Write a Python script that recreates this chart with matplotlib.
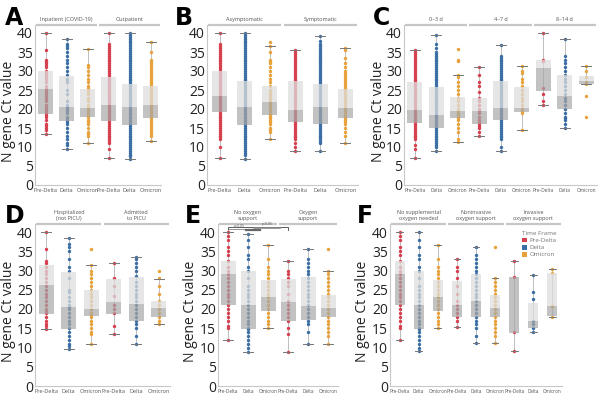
import matplotlib.pyplot as plt
from matplotlib.patches import Rectangle, Patch
import numpy as np

plt.rcParams['font.family'] = ['Open Sans', 'DejaVu Sans']

variants = ['Pre-Delta', 'Delta', 'Omicron']
colors = {'Pre-Delta': '#d6404e', 'Delta': '#3b6ea5', 'Omicron': '#e9a23b'}

# box stats per column: [whisker low, Q1, median, Q3, whisker high]
# --- A: inpatient / outpatient
a_headers = ['Inpatient (COVID-19)', 'Outpatient']
a_boxes = [[13.5, 18.8, 25.2, 30.0, 40], [9.5, 16.8, 20.5, 28.7, 38.5], [11, 18, 20.2, 25.3, 35.8],
           [7, 16.8, 21, 28.5, 40], [6.8, 15.8, 20.5, 26.7, 40], [11.7, 17.7, 21, 26, 37.5]]
a_points = [
    [13.5, 14.5, 15, 15.5, 16, 17, 18, 18.5, 19, 19.5, 20, 20.5, 21, 22, 22.5, 23, 23.5, 24, 24.5, 25,
     25.5, 26, 27, 28, 28.5, 29, 29.5, 30, 31, 31.5, 32, 32.5, 33, 35.5, 40],
    [9.5, 10.5, 11, 12, 13, 14, 15, 16, 16.5, 17, 17.5, 18, 19, 19.5, 20, 20.5, 21, 22, 24, 25, 27,
     27.5, 28, 29, 30, 31, 32, 33, 34, 35, 36, 36.5, 37, 38.5],
    [11, 13, 13.5, 14, 15, 16, 16.5, 17, 18, 18.5, 19, 19.5, 20, 20.5, 21, 22, 22.5, 23, 24, 24.5, 25,
     25.5, 26, 27, 28, 29, 30, 31, 31.5, 35.8],
    [7, 9.5, 11, 11.5, 12, 12.5, 13, 13.5, 14, 14.5, 15, 15.5, 16, 16.5, 17, 17.5, 18, 18.5, 19, 19.5,
     20, 20.5, 21, 21.5, 22, 22.5, 23, 23.5, 24, 24.5, 25, 25.5, 26, 26.5, 27, 27.5, 28, 28.5, 29,
     29.5, 30, 30.5, 31, 31.5, 32, 32.5, 33, 33.5, 34, 34.5, 35, 35.5, 36, 36.5, 37, 40],
    [6.8, 7.5, 8, 8.5, 9, 9.5, 10, 10.5, 11, 11.5, 12, 12.5, 13, 13.5, 14, 14.5, 15, 15.5, 16, 16.5,
     17, 17.5, 18, 18.5, 19, 19.5, 20, 20.5, 21, 21.5, 22, 22.5, 23, 23.5, 24, 24.5, 25, 25.5, 26,
     26.5, 27, 27.5, 28, 28.5, 29, 29.5, 30, 30.5, 31, 31.5, 32, 32.5, 33, 33.5, 34, 34.5, 35, 35.5,
     36, 36.5, 37, 37.5, 38, 38.5, 39, 39.5, 40],
    [11.7, 13, 13.5, 14, 14.5, 15, 15.5, 16, 16.5, 17, 17.5, 18, 18.5, 19, 19.5, 20, 20.5, 21, 21.5,
     22, 22.5, 23, 23.5, 24, 24.5, 25, 25.5, 26, 26.5, 27, 27.5, 28, 28.5, 29, 29.5, 30, 30.5, 31,
     31.5, 32, 32.5, 33, 35, 37.5],
]

# --- B: asymptomatic / symptomatic
b_headers = ['Asymptomatic', 'Symptomatic']
b_boxes = [[7, 19.1, 23.3, 30, 40], [6.8, 15.8, 20.5, 27.3, 40], [12, 18.5, 21.8, 26, 36.5],
           [9, 16.5, 19.8, 27.3, 35.5], [9, 16, 20.6, 26.6, 39.3], [11, 17.6, 20.3, 25.3, 36]]
b_points = [
    [7, 10, 12, 12.5, 13, 13.5, 14, 14.5, 15, 15.5, 16, 16.5, 17, 17.5, 18, 18.5, 19, 19.5, 20, 20.5,
     21, 21.5, 22, 22.5, 23, 23.5, 24, 24.5, 25, 25.5, 26, 26.5, 27, 27.5, 28, 28.5, 29, 29.5, 30,
     30.5, 31, 31.5, 32, 32.5, 33, 33.5, 34, 34.5, 35, 35.5, 36, 36.5, 37, 40],
    [6.8, 8, 8.5, 9, 9.5, 10, 10.5, 11, 11.5, 12, 12.5, 13, 13.5, 14, 14.5, 15, 15.5, 16, 16.5, 17,
     17.5, 18, 18.5, 19, 19.5, 20, 20.5, 21, 21.5, 22, 22.5, 23, 23.5, 24, 24.5, 25, 25.5, 26, 26.5,
     27, 27.5, 28, 28.5, 29, 29.5, 30, 30.5, 31, 31.5, 32, 32.5, 33, 33.5, 34, 34.5, 35, 35.5, 36,
     36.5, 37, 37.5, 38, 38.5, 39, 39.5, 40],
    [12, 14, 14.5, 15, 16, 16.5, 17, 17.5, 18, 18.5, 19, 19.5, 20, 20.5, 21, 21.5, 22, 22.5, 23, 23.5,
     24, 24.5, 25, 26, 27, 28, 29, 30, 31, 32, 32.5, 33, 35, 36.5, 37.5],
    [9, 10, 11, 12, 12.5, 13, 13.5, 14, 14.5, 15, 15.5, 16, 16.5, 17, 17.5, 18, 18.5, 19, 19.5, 20,
     20.5, 21, 21.5, 22, 22.5, 23, 23.5, 24, 24.5, 25, 25.5, 26, 26.5, 27, 27.5, 28, 28.5, 29, 29.5,
     30, 30.5, 31, 31.5, 32, 32.5, 33, 33.5, 34, 34.5, 35, 35.5],
    [9, 11, 11.5, 12, 12.5, 13, 13.5, 14, 14.5, 15, 15.5, 16, 16.5, 17, 17.5, 18, 18.5, 19, 19.5, 20,
     20.5, 21, 21.5, 22, 22.5, 23, 23.5, 24, 24.5, 25, 25.5, 26, 26.5, 27, 27.5, 28, 28.5, 29, 29.5,
     30, 30.5, 31, 31.5, 32, 32.5, 33, 33.5, 34, 34.5, 35, 35.5, 36, 36.5, 37, 38, 39.3],
    [11, 13, 14, 15, 16, 16.5, 17, 17.5, 18, 18.5, 19, 19.5, 20, 20.5, 21, 21.5, 22, 22.5, 23, 23.5,
     24, 24.5, 25, 25.5, 26, 26.5, 27, 27.5, 28, 28.5, 29, 29.5, 30, 31, 32, 33.5, 35.5, 36],
]

# --- C: days since symptom onset
c_headers = ['0\u20133 d', '4\u20137 d', '8\u201314 d']
c_boxes = [[7, 16.3, 19.8, 27, 35.5], [9, 15, 18.5, 25.8, 39.5], [11.3, 17.7, 19.5, 23.2, 29],
           [13, 16.1, 19.5, 23, 31], [9, 17.2, 20.3, 27.3, 36.8], [14.5, 19.2, 20.3, 25.8, 31.2],
           [21, 24.8, 30.7, 33, 40], [15, 20, 23.5, 29, 38.5], [26.6, 26.6, 27.3, 28.8, 31.2]]
c_points = [
    [7, 9.5, 10.5, 12, 12.5, 13, 13.5, 14, 14.5, 15, 15.5, 16, 16.5, 17, 17.5, 18, 18.5, 19, 19.5, 20,
     20.5, 21, 21.5, 22, 22.5, 23, 23.5, 24, 24.5, 25, 25.5, 26, 26.5, 27, 27.5, 28, 28.5, 29, 29.5,
     30, 30.5, 31, 31.5, 32, 32.5, 33, 33.5, 34, 34.5, 35, 35.5],
    [9, 10, 10.5, 11, 11.5, 12, 12.5, 13, 13.5, 14, 14.5, 15, 15.5, 16, 16.5, 17, 17.5, 18, 18.5, 19,
     19.5, 20, 20.5, 21, 21.5, 22, 22.5, 23, 23.5, 24, 24.5, 25, 25.5, 26, 26.5, 27, 27.5, 28, 28.5,
     29, 29.5, 30, 30.5, 31, 31.5, 32, 32.5, 33, 33.5, 34, 34.5, 35, 36, 37, 39.5],
    [11.3, 12, 14, 15, 16, 17, 17.5, 18, 18.5, 19, 19.5, 20, 21, 22, 23, 24, 25, 26, 27, 28.5, 29,
     32.5, 33, 35.8],
    [13, 14, 15, 15.5, 16, 16.5, 17, 18, 19, 19.5, 20, 21, 22, 23, 24.5, 26, 27, 29, 31],
    [9, 10, 12, 12.5, 13, 13.5, 14, 14.5, 15, 15.5, 16, 16.5, 17, 17.5, 18, 18.5, 19, 19.5, 20, 20.5,
     21, 21.5, 22, 22.5, 23, 23.5, 24, 24.5, 25, 25.5, 26, 26.5, 27, 27.5, 28, 28.5, 29, 29.5, 30,
     30.5, 31, 31.5, 32, 32.5, 33, 33.5, 34, 36.8],
    [14.5, 19, 19.5, 20, 21, 22, 23, 24, 25, 26, 27, 28, 29.5, 30, 31.2],
    [21, 22, 24, 25.5, 32.5, 33, 40],
    [15, 16, 17, 17.5, 18, 19, 20, 21, 22, 23, 24, 25, 26, 27, 28, 29, 30, 31, 32, 33, 34, 38.5],
    [18, 23.5, 26.7, 27, 28.5, 30, 31.2],
]

# --- D: hospitalized / PICU
d_headers = ['Hospitalized\n(not PICU)', 'Admitted\nto PICU']
d_boxes = [[14.8, 18.8, 26.3, 31.3, 40], [9.5, 14.7, 20.5, 29.7, 38.5], [11, 18.3, 20.1, 25, 31.3],
           [13.6, 18.8, 21.8, 27.7, 32], [11, 16.8, 21.4, 28.4, 33.5], [16.2, 17.8, 20.3, 22, 27.8]]
d_points = [
    [14.8, 15.5, 16, 17, 18, 19, 19.5, 20, 21, 22, 23, 24, 25, 26, 27, 28, 29, 30, 31, 32, 32.5, 35.5, 40],
    [9.5, 10.5, 11, 12, 13, 14, 15, 16, 17, 18, 19, 20, 20.5, 21, 22, 23, 24.5, 25, 28, 30, 31, 33,
     35, 36, 37, 38.5],
    [11, 13.5, 14, 15, 16, 17, 18, 18.5, 19, 20, 21, 22, 23, 24, 25, 26, 27, 28, 29, 30, 31.3, 35.7],
    [13.6, 15.5, 19, 20, 21, 23.5, 26, 28, 32],
    [11, 13, 15, 16, 17, 18, 19, 20, 21, 22, 23, 24, 25, 26, 27, 28.5, 30, 31, 32, 33, 33.5],
    [16.2, 17, 18, 19, 20, 21, 22, 24, 26, 28, 30],
]

# --- E: oxygen support
e_headers = ['No oxygen\nsupport', 'Oxygen\nsupport']
e_boxes = [[12, 21, 29, 32.5, 40], [8.8, 14.7, 21, 30, 39.5], [15, 19.5, 23, 27.5, 36.5],
           [8.8, 17, 21.7, 27.8, 32.5], [11, 17.2, 20.8, 28.3, 35.6], [11, 17.8, 20.3, 23.7, 30]]
e_points = [
    [12, 15, 15.5, 17, 18, 19, 20, 21, 22, 23, 24, 25, 26, 27, 28, 29, 30, 31, 32.5, 34, 35, 36, 38, 39, 40],
    [8.8, 10, 11, 12, 13, 14, 14.7, 15, 16, 17, 18, 19, 20, 21, 22, 23, 24, 25, 26, 28, 30, 31, 33,
     34, 36, 38, 39.5],
    [15, 16, 17, 18, 19, 20, 21, 22, 23, 24, 25, 26, 27, 28, 29, 30, 31, 33, 36.5],
    [8.8, 13.5, 15, 17, 18, 19, 20, 21, 22, 24, 26, 27, 28, 29, 30, 32.5],
    [11, 14, 16, 17, 18, 19, 20, 21, 22, 23, 24, 25, 26, 27, 28, 29, 30, 31, 32, 33, 35.6],
    [11, 13, 14, 15, 16, 17, 18, 19, 20, 21, 22, 23, 24, 25, 26, 27, 28, 29, 30, 35.7],
]

# --- F: level of oxygen support
f_headers = ['No supplemental\noxygen needed', 'Noninvasive\noxygen support', 'Invasive\noxygen support']
f_boxes = [[12, 21, 29, 32.5, 40], [9, 14.7, 21, 30, 40], [15, 19.5, 23, 27.5, 36.5],
           [15.4, 18, 21, 27.4, 33], [11.2, 18, 22, 29, 36], [11.2, 17.8, 20.2, 23.7, 28.1],
           [9, 13.8, 28.3, 28.3, 32.4], [14, 15, 17, 21.5, 28.8], [18, 18.3, 20.8, 29.3, 30.3]]
f_points = [
    [12, 15, 15.5, 17, 18, 19, 20, 21, 22, 23, 24, 25, 26, 27, 28, 29, 30, 31, 32.5, 34, 35, 36, 38, 39, 40],
    [9, 10, 11, 12, 13, 14, 14.7, 15, 16, 17, 18, 19, 20, 21, 22, 23, 24, 25, 26, 28, 30, 31, 33,
     34, 36, 38, 40],
    [15, 16, 17, 18, 19, 20, 21, 22, 23, 24, 25, 26, 27, 28, 29, 30, 31, 33, 36.5],
    [15.4, 17, 18, 19, 20, 21, 22, 24, 26, 28, 30, 31, 33],
    [11.2, 13, 15, 16, 17, 18, 19, 20, 21, 22, 23, 24, 25, 26, 27, 28, 29, 30, 31, 32, 33, 34, 36],
    [11.2, 13, 14, 15, 16, 17, 18, 19, 20, 21, 22, 23, 24, 25, 26, 27, 28.1, 36],
    [9, 14, 28.3, 32.4],
    [14, 15, 16, 17, 22.5, 24.5, 28.8],
    [18, 20.8, 29.3, 30.3],
]

W, H = 600, 397
fig = plt.figure(figsize=(W / 100, H / 100), dpi=100)


def px_axes(left, right, top, bottom):
    return fig.add_axes([left / W, 1 - bottom / H, (right - left) / W, (bottom - top) / H])


def draw_panel(ax, headers, boxes, points, box_px, xfs=4):
    n = len(boxes)
    ax.set_xlim(-0.5, n - 0.5)
    ax.set_ylim(0, 42)
    w = box_px / (ax.get_position().width * W / n)
    for i, (st, pts) in enumerate(zip(boxes, points)):
        lo, q1, med, q3, hi = st
        c = colors[variants[i % 3]]
        ax.plot([i, i], [lo, hi], color='#bdbdbd', lw=0.7, zorder=1)
        ax.scatter(np.full(len(pts), i), pts, s=6, color=c, lw=0, zorder=2)
        ax.add_patch(Rectangle((i - w / 2, q1), w, med - q1, fc='#a8a8a8', alpha=0.7, lw=0, zorder=3))
        ax.add_patch(Rectangle((i - w / 2, med), w, q3 - med, fc='#dedede', alpha=0.75, lw=0, zorder=3))
        for v in (lo, hi):
            ax.plot([i - w / 3, i + w / 3], [v, v], color='#777777', lw=0.7, zorder=4)
    # group headers
    for k, lab in enumerate(headers):
        x0, x1 = 3 * k - 0.45, 3 * k + 2.45
        ax.plot([x0, x1], [42, 42], color='#c6c6c6', lw=1.6, clip_on=False, solid_capstyle='butt')
        ax.annotate(lab, (3 * k + 1, 42), xytext=(0, 2.5), textcoords='offset points',
                    ha='center', va='bottom', fontsize=4, color='#555555', linespacing=1.1)
    ax.set_xticks(range(n))
    ax.set_xticklabels([variants[i % 3] for i in range(n)], fontsize=xfs, color='#555555')
    ax.set_yticks(range(0, 41, 5))
    ax.tick_params(axis='y', length=0, pad=1.5, labelsize=10, labelcolor='#222222')
    ax.tick_params(axis='x', length=0, pad=2)
    for s in ('top', 'right'):
        ax.spines[s].set_visible(False)
    for s in ('left', 'bottom'):
        ax.spines[s].set_color('#c8c8c8')
        ax.spines[s].set_linewidth(0.8)


r1_top, r1_bot = 185 - 42 * 3.8, 185
r2_top, r2_bot = 386 - 42 * 3.85, 386

axA = px_axes(35, 161, r1_top, r1_bot)
axB = px_axes(207, 358, r1_top, r1_bot)
axC = px_axes(404, 597, r1_top, r1_bot)
axD = px_axes(35, 170, r2_top, r2_bot)
axE = px_axes(218, 338, r2_top, r2_bot)
axF = px_axes(390, 562, r2_top, r2_bot)

draw_panel(axA, a_headers, a_boxes, a_points, 15)
draw_panel(axB, b_headers, b_boxes, b_points, 15)
draw_panel(axC, c_headers, c_boxes, c_points, 15, xfs=3.5)
draw_panel(axD, d_headers, d_boxes, d_points, 15)
draw_panel(axE, e_headers, e_boxes, e_points, 15, xfs=3.4)
draw_panel(axF, f_headers, f_boxes, f_points, 10, xfs=3.3)

# significance brackets in E
axE.plot([0, 0, 3, 3], [40.9, 41.4, 41.4, 40.6], color='#444444', lw=0.6, clip_on=False, zorder=5)
axE.plot([0, 0, 1, 1], [40.6, 40.9, 40.9, 40.6], color='#666666', lw=0.5, clip_on=False, zorder=5)
axE.plot([0.9, 1.6], [40.6, 40.6], color='#666666', lw=1.6, clip_on=False, zorder=5)
axE.plot([1.3, 2.6], [41.0, 41.0], color='#888888', lw=1.2, clip_on=False, zorder=5)
axE.text(1.7, 41.6, 'p<0.05', fontsize=2.5, color='#555555', ha='left', va='bottom')
axE.text(0.3, 40.95, 'p<0.05', fontsize=2.5, color='#555555', ha='left', va='bottom')

# legend in F
handles = [Patch(fc=colors[v], ec='none', label=v) for v in variants]
leg = fig.legend(handles=handles, title='Time Frame', loc='upper left',
                 bbox_to_anchor=(519 / W, 1 - 228 / H), frameon=False, fontsize=4.5,
                 title_fontsize=4.5, handlelength=0.8, handleheight=0.8, handletextpad=0.4,
                 labelspacing=0.25, borderpad=0, alignment='left')
for t in leg.get_texts():
    t.set_color('#777777')
leg.get_title().set_color('#777777')

# y labels and panel letters
ylab = dict(fontsize=10, color='#222222', rotation=90, ha='center', va='center')
fig.text(9 / W, 1 - 111 / H, 'N gene Ct value', **ylab)
fig.text(378 / W, 1 - 111 / H, 'N gene Ct value', **ylab)
fig.text(9 / W, 1 - 311 / H, 'N gene Ct value', **ylab)
fig.text(191 / W, 1 - 311 / H, 'N gene Ct value', **ylab)
fig.text(362 / W, 1 - 311 / H, 'N gene Ct value', **ylab)

letter = dict(fontsize=17, fontweight='bold', family='DejaVu Sans', color='black', va='baseline')
for lab, x, y in [('A', 5, 25), ('B', 175, 25), ('C', 373, 25), ('D', 5, 223), ('E', 185, 223), ('F', 357, 223)]:
    fig.text(x / W, 1 - y / H, lab, **letter)

fig.savefig('out.png', dpi=100)
